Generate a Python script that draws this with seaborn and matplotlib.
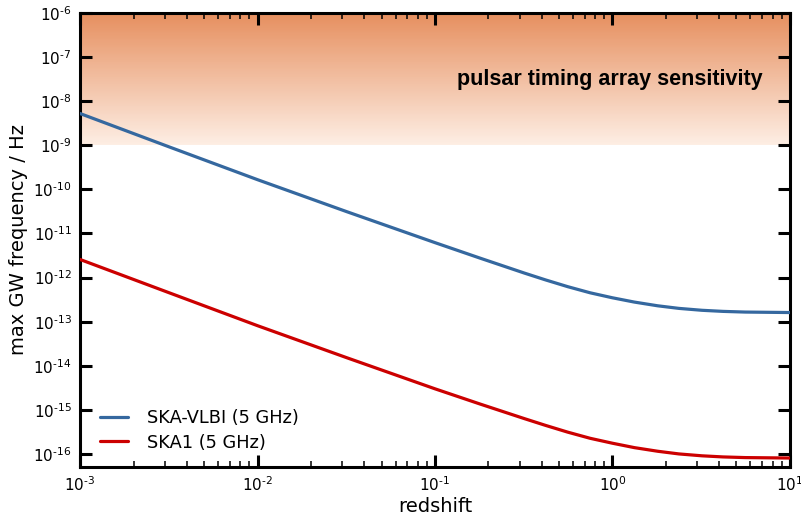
import numpy as np
import pandas as pd
import matplotlib
matplotlib.use("Agg")
import matplotlib.pyplot as plt
from matplotlib.ticker import FuncFormatter
import seaborn as sns

# redshift grid
redshift = [1e-3, 3.2e-3, 1e-2, 3.2e-2, 0.1, 0.18, 0.32, 0.42, 0.56, 0.75, 1.0,
            1.33, 1.8, 2.37, 3.2, 4.2, 5.6, 10.0]

# max GW frequency (Hz)
ska_vlbi = [5.25e-9, 9.1e-10, 1.66e-10, 3.1e-11, 6.2e-12, 2.75e-12, 1.26e-12,
            8.85e-13, 6.22e-13, 4.51e-13, 3.48e-13, 2.78e-13, 2.29e-13, 2.0e-13,
            1.81e-13, 1.71e-13, 1.65e-13, 1.61e-13]
ska1 = [2.57e-12, 4.47e-13, 8.1e-14, 1.51e-14, 3.0e-15, 1.35e-15, 6.3e-16,
        4.44e-16, 3.12e-16, 2.26e-16, 1.75e-16, 1.39e-16, 1.15e-16, 1.0e-16,
        9.06e-17, 8.55e-17, 8.26e-17, 8.07e-17]

labels = ["SKA-VLBI (5 GHz)", "SKA1 (5 GHz)"]
colors = ["#35689f", "#cc0000"]

# pulsar timing array band
pta_low, pta_high = 1e-9, 1e-6

df = pd.concat([
    pd.DataFrame({"z": redshift, "f": ska_vlbi, "survey": labels[0]}),
    pd.DataFrame({"z": redshift, "f": ska1, "survey": labels[1]}),
])

sns.set_style("ticks")
plt.rcParams["font.family"] = ["DejaVu Sans"]
plt.rcParams["text.color"] = "black"
plt.rcParams["axes.labelcolor"] = "black"
plt.rcParams["xtick.color"] = "black"
plt.rcParams["ytick.color"] = "black"
plt.rcParams["axes.edgecolor"] = "black"

fig = plt.figure(figsize=(8.01, 5.21), dpi=100)
ax = fig.add_axes([0.1, 0.104, 0.886, 0.871])

# gradient shading for the PTA region
top_rgb = np.array([230, 143, 95]) / 255
bot_rgb = np.array([253, 238, 228]) / 255
edges = np.logspace(np.log10(pta_low), np.log10(pta_high), 151)
for i in range(len(edges) - 1):
    t = i / (len(edges) - 2)
    c = bot_rgb + (top_rgb - bot_rgb) * t
    ax.axhspan(edges[i], edges[i + 1], color=c, lw=0, zorder=0)

sns.lineplot(data=df, x="z", y="f", hue="survey", palette=colors,
             linewidth=2.3, ax=ax, zorder=3)

ax.set_xscale("log")
ax.set_yscale("log")
ax.set_xlim(1e-3, 10)
ax.set_ylim(5.1e-17, 1e-6)
ax.set_yticks([10.0 ** e for e in range(-16, -5)])
ax.set_xticks([10.0 ** e for e in range(-3, 2)])


def pow10(v, pos):
    e = int(round(np.log10(v)))
    if e < 0:
        return r"$10^{\text{-}%d}$" % (-e)
    return r"$10^{%d}$" % e


ax.xaxis.set_major_formatter(FuncFormatter(pow10))
ax.yaxis.set_major_formatter(FuncFormatter(pow10))

ax.tick_params(which="both", direction="in", top=True, right=True, labelsize=11)
ax.tick_params(which="major", length=8.5, width=2.2, pad=6)
ax.tick_params(which="minor", length=4.2, width=1.1)
for s in ax.spines.values():
    s.set_linewidth(2.2)

ax.set_xlabel("redshift", fontsize=14, labelpad=2)
ax.set_ylabel("max GW frequency / Hz", fontsize=14)
ax.yaxis.set_label_coords(-0.074, 0.5)

ax.text(7.0, 3.1e-8, "pulsar timing array sensitivity", ha="right", va="center",
        fontsize=15.5, fontweight="bold", family=["Liberation Sans", "DejaVu Sans"], zorder=4)

leg = ax.legend(loc="lower left", bbox_to_anchor=(0.018, 0.018), borderaxespad=0,
                frameon=False, fontsize=12.8, handlelength=1.6,
                handletextpad=1.05, labelspacing=0.35)

fig.savefig("out.png", dpi=100)
